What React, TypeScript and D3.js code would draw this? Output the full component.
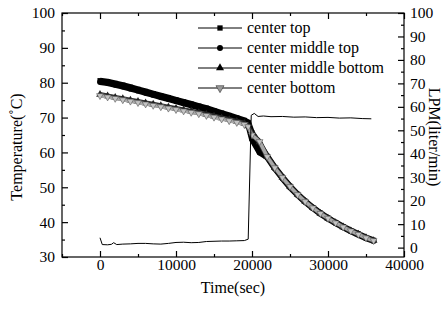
import { useEffect, useRef } from "react";
import * as d3 from "d3";

const W = 447;
const H = 310;
const M = { top: 13, right: 43, bottom: 53, left: 62 };

// time axis (sec) shared by the four temperature series
const timeSec = [
  0, 1000, 2000, 3000, 4000, 5000, 6000, 7000, 8000, 9000, 10000, 11000, 12000,
  13000, 14000, 15000, 16000, 17000, 18000, 19000, 19500, 20000, 21000, 22000,
  23000, 24000, 25000, 26000, 27000, 28000, 29000, 30000, 31000, 32000, 33000,
  34000, 35000, 36000,
];

const centerTop = [
  80.6, 80.3, 79.8, 79.3, 78.7, 78.1, 77.5, 76.9, 76.3, 75.7, 75.1, 74.5, 73.9,
  73.3, 72.7, 72.0, 71.3, 70.6, 69.9, 69.2, 68.6, 65.6, 62.4, 58.9, 55.7, 52.9,
  50.3, 48.0, 46.0, 44.2, 42.6, 41.2, 39.9, 38.7, 37.6, 36.6, 35.6, 34.8,
];
const centerMiddleTop = [
  80.2, 79.9, 79.4, 78.9, 78.3, 77.7, 77.1, 76.5, 75.9, 75.3, 74.7, 74.1, 73.5,
  72.9, 72.3, 71.6, 70.9, 70.2, 69.5, 68.8, 68.0, 63.8, 60.0, 58.6, 55.4, 52.6,
  50.0, 47.8, 45.8, 44.0, 42.4, 41.0, 39.7, 38.5, 37.4, 36.4, 35.4, 34.6,
];
const centerMiddleBottom = [
  76.6, 76.2, 75.8, 75.4, 75.0, 74.6, 74.2, 73.8, 73.4, 73.0, 72.6, 72.2, 71.8,
  71.4, 70.9, 70.4, 69.9, 69.4, 68.9, 68.3, 67.6, 65.2, 63.0, 58.8, 55.6, 52.8,
  50.2, 47.9, 45.9, 44.1, 42.5, 41.1, 39.8, 38.6, 37.5, 36.5, 35.5, 34.7,
];
const centerBottom = [
  76.3, 75.9, 75.5, 75.1, 74.7, 74.3, 73.9, 73.5, 73.1, 72.7, 72.3, 71.9, 71.5,
  71.1, 70.6, 70.1, 69.6, 69.1, 68.6, 68.0, 67.4, 65.0, 63.1, 58.8, 55.6, 52.8,
  50.2, 47.9, 45.9, 44.1, 42.5, 41.1, 39.8, 38.6, 37.5, 36.5, 35.5, 34.7,
];

// flow rate (LPM) on the right axis
const flowTime = [
  0, 300, 1000, 1500, 1800, 2200, 3000, 4000, 5000, 6000, 7000, 8000, 9000,
  10000, 11000, 12000, 13000, 14000, 15000, 16000, 17000, 18000, 19000, 19500,
  19900, 20300, 20800, 21500, 22500, 24000, 25500, 27000, 28500, 30000, 31500,
  33000, 34500, 35700,
];
const flowLpm = [
  4.2, 1.3, 1.2, 1.4, 2.1, 1.3, 1.5, 1.6, 1.8, 1.8, 1.6, 1.5, 1.8, 2.2, 2.3,
  2.1, 2.2, 2.6, 2.7, 2.8, 2.8, 2.9, 3.0, 3.6, 56.4, 57.2, 55.9, 56.1, 55.8,
  55.9, 55.6, 55.7, 55.4, 55.5, 55.2, 55.3, 55.0, 54.9,
];

const seriesNames = ["center top", "center middle top", "center middle bottom", "center bottom"];
const seriesValues = [centerTop, centerMiddleTop, centerMiddleBottom, centerBottom];

const xTicks = [0, 10000, 20000, 30000, 40000];
const xMinor = [-5000, 5000, 15000, 25000, 35000];
const yTicks = [30, 40, 50, 60, 70, 80, 90, 100];
const yMinor = [35, 45, 55, 65, 75, 85, 95];
const lpmTicks = [0, 10, 20, 30, 40, 50, 60, 70, 80, 90, 100];
const lpmMinor = [5, 15, 25, 35, 45, 55, 65, 75, 85, 95];

const FONT = "Liberation Serif";

export default function App() {
  const svgRef = useRef<SVGSVGElement>(null);

  useEffect(() => {
    if (!svgRef.current) return;
    const root = d3.select(svgRef.current);
    root.selectAll("*").remove();

    const iw = W - M.left - M.right;
    const ih = H - M.top - M.bottom;

    const x = d3.scaleLinear().domain([-5000, 40000]).range([0, iw]);
    const y = d3.scaleLinear().domain([30, 100]).range([ih, 0]);
    const yR = d3.scaleLinear().domain([-4, 100]).range([ih, 0]);

    const g = root.append("g").attr("transform", `translate(${M.left},${M.top})`);

    // temperature series
    const styles = [
      { stroke: "#000", width: 6, fill: "#000", sym: d3.symbolSquare },
      { stroke: "#000", width: 6, fill: "#000", sym: d3.symbolCircle },
      { stroke: "#333", width: 5, fill: "#222", sym: d3.symbolTriangle },
      { stroke: "#a8a8a8", width: 3.5, fill: "#c4c4c4", sym: d3.symbolTriangle },
    ];

    const line = d3
      .line<number>()
      .x((_, i) => x(timeSec[i]))
      .y((d) => y(d));

    seriesValues.forEach((vals, k) => {
      const s = styles[k];
      g.append("path")
        .attr("d", line(vals))
        .attr("fill", "none")
        .attr("stroke", s.stroke)
        .attr("stroke-width", s.width)
        .attr("stroke-linejoin", "round");
      const sym = d3.symbol().type(s.sym).size(k === 3 ? 20 : 26);
      g.selectAll(null)
        .data(vals)
        .join("path")
        .attr("d", sym)
        .attr(
          "transform",
          (d, i) => `translate(${x(timeSec[i])},${y(d)})${k === 3 ? " rotate(180)" : ""}`
        )
        .attr("fill", s.fill)
        .attr("stroke", k === 3 ? "#555" : "none")
        .attr("stroke-width", 0.6);
    });

    // flow line
    g.append("path")
      .attr(
        "d",
        d3
          .line<number>()
          .x((_, i) => x(flowTime[i]))
          .y((d) => yR(d))(flowLpm)
      )
      .attr("fill", "none")
      .attr("stroke", "#000")
      .attr("stroke-width", 1);

    // frame
    g.append("rect")
      .attr("width", iw)
      .attr("height", ih)
      .attr("fill", "none")
      .attr("stroke", "#000")
      .attr("stroke-width", 1.2);

    const styleAxis = (sel: d3.Selection<SVGGElement, unknown, null, undefined>) => {
      sel.select(".domain").remove();
      sel.selectAll("line").attr("stroke", "#000").attr("stroke-width", 1.2);
      sel.selectAll("text").attr("font-family", FONT).attr("font-size", 15.5).attr("fill", "#000");
    };

    // bottom / top
    g.append("g")
      .attr("transform", `translate(0,${ih})`)
      .call(d3.axisBottom(x).tickValues(xTicks).tickSize(-6).tickPadding(2).tickFormat(d3.format("d")))
      .call(styleAxis);
    g.append("g")
      .attr("transform", `translate(0,${ih})`)
      .call(d3.axisBottom(x).tickValues(xMinor).tickSize(-3).tickFormat(() => ""))
      .call(styleAxis);
    g.append("g")
      .call(d3.axisTop(x).tickValues(xTicks).tickSize(-6).tickFormat(() => ""))
      .call(styleAxis);
    g.append("g")
      .call(d3.axisTop(x).tickValues(xMinor).tickSize(-3).tickFormat(() => ""))
      .call(styleAxis);

    // left
    g.append("g")
      .call(d3.axisLeft(y).tickValues(yTicks).tickSize(-6).tickPadding(7).tickFormat(d3.format("d")))
      .call(styleAxis);
    g.append("g")
      .call(d3.axisLeft(y).tickValues(yMinor).tickSize(-3).tickFormat(() => ""))
      .call(styleAxis);

    // right (LPM)
    g.append("g")
      .attr("transform", `translate(${iw},0)`)
      .call(d3.axisRight(yR).tickValues(lpmTicks).tickSize(-6).tickPadding(6).tickFormat(d3.format("d")))
      .call(styleAxis);
    g.append("g")
      .attr("transform", `translate(${iw},0)`)
      .call(d3.axisRight(yR).tickValues(lpmMinor).tickSize(-3).tickFormat(() => ""))
      .call(styleAxis);

    // axis titles
    root
      .append("text")
      .attr("x", M.left + x(17500))
      .attr("y", 293)
      .attr("text-anchor", "middle")
      .attr("font-family", FONT)
      .attr("font-size", 16)
      .text("Time(sec)");

    root
      .append("text")
      .attr("transform", `translate(16,147) rotate(-90)`)
      .attr("text-anchor", "middle")
      .attr("dy", "0.35em")
      .attr("font-family", FONT)
      .attr("font-size", 16)
      .text("Temperature(\u02DAC)");

    root
      .append("text")
      .attr("transform", `translate(435,137) rotate(90)`)
      .attr("text-anchor", "middle")
      .attr("dy", "0.35em")
      .attr("font-family", FONT)
      .attr("font-size", 16)
      .text("LPM(liter/min)");

    // legend
    const leg = root.append("g");
    seriesNames.forEach((name, k) => {
      const s = styles[k];
      const ly = 28 + k * 20;
      leg
        .append("line")
        .attr("x1", 198)
        .attr("x2", 242)
        .attr("y1", ly)
        .attr("y2", ly)
        .attr("stroke", "#000")
        .attr("stroke-width", 1);
      leg
        .append("path")
        .attr("d", d3.symbol().type(s.sym).size(28)())
        .attr("transform", `translate(220,${ly})${k === 3 ? " rotate(180)" : ""}`)
        .attr("fill", k === 3 ? "#999" : "#000")
        .attr("stroke", k === 3 ? "#333" : "none")
        .attr("stroke-width", 0.6);
      leg
        .append("text")
        .attr("x", 247)
        .attr("y", ly)
        .attr("dy", "0.32em")
        .attr("font-family", FONT)
        .attr("font-size", 16)
        .text(name);
    });
  }, []);

  return (
    <div style={{ position: "fixed", left: 0, top: 0, background: "#fff" }}>
      <svg ref={svgRef} width={W} height={H} viewBox={`0 0 ${W} ${H}`} style={{ display: "block" }} />
    </div>
  );
}
